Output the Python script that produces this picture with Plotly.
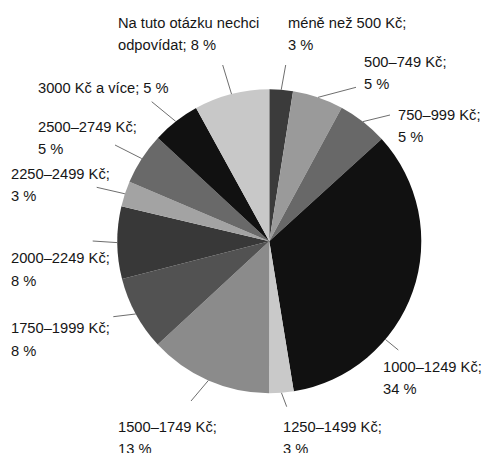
"""
Pie chart: monthly spending brackets (Czech survey), grayscale with
Excel-style outside labels and leader lines.
"""
import math

import plotly.graph_objects as go

W, H = 482, 453

# ════════════════════════════════════════════════════════
# data
# ════════════════════════════════════════════════════════
categories = [
    "méně než 500 Kč",
    "500–749 Kč",
    "750–999 Kč",
    "1000–1249 Kč",
    "1250–1499 Kč",
    "1500–1749 Kč",
    "1750–1999 Kč",
    "2000–2249 Kč",
    "2250–2499 Kč",
    "2500–2749 Kč",
    "3000 Kč a více",
    "Na tuto otázku nechci odpovídat",
]
# slice sizes (percent)
shares = [2.5, 5.4, 5.35, 34.2, 2.6, 13.1, 7.9, 7.7, 2.7, 5.5, 5.1, 8.0]
# percentages printed in the labels
shown_pct = [3, 5, 5, 34, 3, 13, 8, 8, 3, 5, 5, 8]

colors = [
    "#3b3b3b", "#9a9a9a", "#686868", "#111111", "#c9c9c9", "#8b8b8b",
    "#525252", "#383838", "#a3a3a3", "#696969", "#111111", "#c8c8c8",
]

# ════════════════════════════════════════════════════════
# layout (pixels)
# ════════════════════════════════════════════════════════
CX, CY, R = 269.3, 241.3, 152.0
LINE_H = 22.4
FONT = dict(family="Liberation Sans, Arial, sans-serif", size=14.7, color="#161616")

# text left edge + centre of first line, outer end of leader, optional attach angle (deg)
label_layout = [
    dict(text=(287.3, 23.0), out=(285.7, 65.0)),
    dict(text=(363.3, 61.7), out=(356.0, 87.3)),
    dict(text=(396.7, 115.0), out=(390.0, 115.0)),
    dict(text=(381.7, 366.5), out=(398.3, 350.0), attach=130.2),
    dict(text=(281.7, 427.0), out=(286.7, 406.7)),
    dict(text=(116.7, 427.0), out=(191.0, 401.0)),
    dict(text=(10.0, 328.3), out=(113.3, 316.7)),
    dict(text=(10.0, 258.3), out=(92.7, 241.0)),
    dict(text=(10.0, 173.5), out=(96.7, 187.3)),
    dict(text=(37.3, 126.7), out=(115.0, 145.0)),
    dict(text=(37.3, 88.3), out=(151.7, 101.7)),
    dict(text=(116.7, 23.0), out=(222.7, 65.0)),
]
# how each label text is broken into lines
label_lines = {
    "3000 Kč a více": ["{name}; {pct} %"],
    "Na tuto otázku nechci odpovídat": ["Na tuto otázku nechci", "odpovídat; {pct} %"],
}


def px(x: float) -> float:
    return x / W


def py(y: float) -> float:
    return 1 - y / H


def mid_angles(values):
    """clockwise angle from 12 o'clock to the middle of every slice"""
    total = sum(values)
    out, acc = [], 0.0
    for v in values:
        out.append((acc + v / 2) / total * 360)
        acc += v
    return out


def edge_point(deg: float):
    a = math.radians(deg)
    return CX + R * math.sin(a), CY - R * math.cos(a)


fig = go.Figure(
    go.Pie(
        labels=categories,
        values=shares,
        sort=False,
        direction="clockwise",
        rotation=0,
        marker=dict(colors=colors, line=dict(width=0)),
        textinfo="none",
        hoverinfo="label+percent",
        showlegend=False,
        domain=dict(x=[px(CX - R), px(CX + R)], y=[py(CY + R), py(CY - R)]),
    )
)

for name, pct, ang, lay in zip(categories, shown_pct, mid_angles(shares), label_layout):
    x0, y0 = edge_point(lay.get("attach", ang))
    x1, y1 = lay["out"]
    fig.add_shape(
        type="line", xref="paper", yref="paper",
        x0=px(x0), y0=py(y0), x1=px(x1), y1=py(y1),
        line=dict(color="#6e6e6e", width=1),
    )
    tx, ty = lay["text"]
    lines = label_lines.get(name, ["{name};", "{pct} %"])
    for i, line in enumerate(lines):
        fig.add_annotation(
            x=px(tx), y=py(ty + i * LINE_H), xref="paper", yref="paper",
            xanchor="left", yanchor="middle", align="left",
            text=line.format(name=name, pct=pct),
            showarrow=False, font=FONT, borderpad=0,
        )

fig.update_layout(
    width=W, height=H,
    margin=dict(l=0, r=0, t=0, b=0),
    paper_bgcolor="white", plot_bgcolor="white",
)

# the page body has a default 8px margin; drop it so the figure sits at 0,0
fig.write_html(
    "out.html",
    config={"displayModeBar": False},
    post_script="document.body.style.margin = '0';",
)
